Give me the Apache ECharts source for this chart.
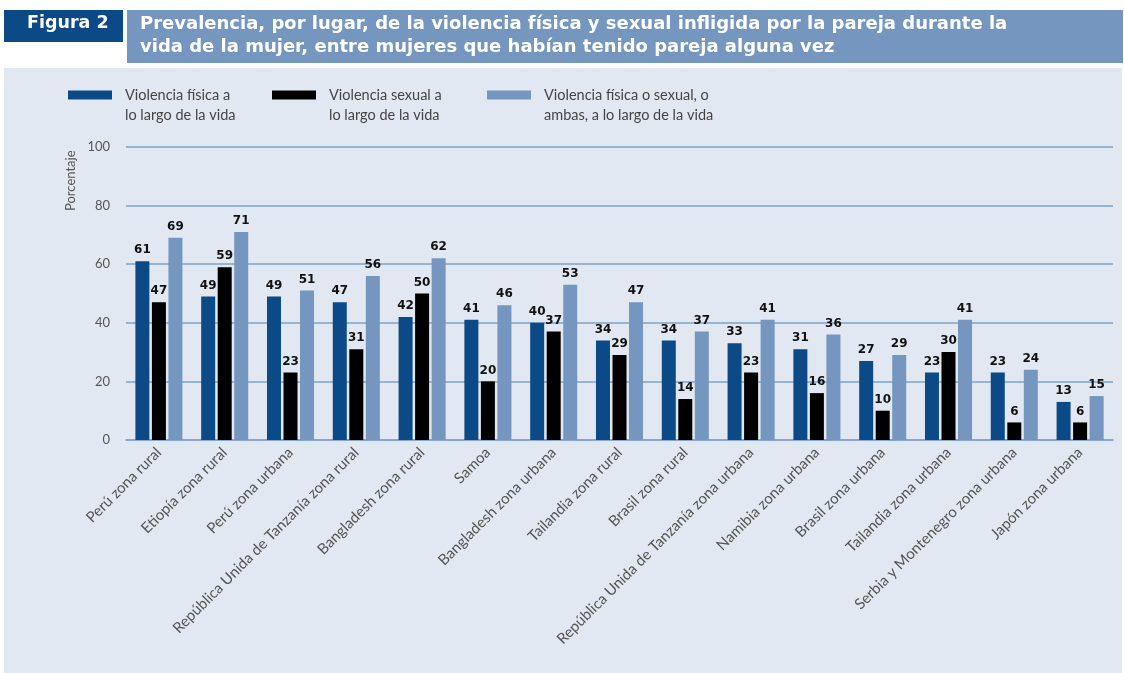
<!DOCTYPE html>
<html>
<head>
<meta charset="utf-8">
<script src="https://cdn.jsdelivr.net/npm/echarts@6/dist/echarts.min.js"></script>
<style>
  html, body { margin: 0; padding: 0; background: #fff; }
  #chart { width: 1124px; height: 673px; }
</style>
</head>
<body>
<div id="chart"></div>
<script>
const categories = [
  'Perú zona rural', 'Etiopía zona rural', 'Perú zona urbana',
  'República Unida de Tanzanía zona rural', 'Bangladesh zona rural', 'Samoa',
  'Bangladesh zona urbana', 'Tailandia zona rural', 'Brasil zona rural',
  'República Unida de Tanzanía zona urbana', 'Namibia zona urbana', 'Brasil zona urbana',
  'Tailandia zona urbana', 'Serbia y Montenegro zona urbana', 'Japón zona urbana'
]
const fisica = [61, 49, 49, 47, 42, 41, 40, 34, 34, 33, 31, 27, 23, 23, 13]
const sexual = [47, 59, 23, 31, 50, 20, 37, 29, 14, 23, 16, 10, 30, 6, 6]
const ambas = [69, 71, 51, 56, 62, 46, 53, 47, 37, 41, 36, 29, 41, 24, 15]
const yTicks = [0, 20, 40, 60, 80, 100]

const names = [
  'Violencia física a\nlo largo de la vida',
  'Violencia sexual a\nlo largo de la vida',
  'Violencia física o sexual, o\nambas, a lo largo de la vida'
]
const colors = ['#0b4a87', '#000000', '#7496bf']

const chart = echarts.init(document.getElementById('chart'))

// tall icon whose filled part is only the top strip, so the swatch
// lines up with the first line of the two-line label
const legendIcon = 'path://M0,0h44v9h-44z M0,28.9h0.05v0.1h-0.05z'

function makeLegend (name, left) {
  return {
    data: [name],
    left: left,
    top: 85,
    padding: 0,
    itemWidth: 44,
    itemHeight: 29,
    icon: legendIcon,
    textStyle: {
      fontFamily: 'Lato',
      fontSize: 14.5,
      color: '#444',
      lineHeight: 20,
      padding: [0, 0, 0, 8]
    }
  }
}

function makeSeries (name, data, color) {
  return {
    name: name,
    type: 'bar',
    data: data,
    barWidth: 14,
    barGap: '18%',
    itemStyle: { color: color },
    label: {
      show: true,
      position: 'top',
      distance: 5,
      fontFamily: 'DejaVu Sans',
      fontWeight: 'bold',
      fontSize: 12,
      color: '#111'
    }
  }
}

chart.setOption({
  animation: false,
  backgroundColor: '#ffffff',
  color: colors,
  graphic: [
    { type: 'rect', z: -10, shape: { x: 4, y: 68, width: 1118, height: 605 }, style: { fill: '#e2e8f1' } },
    { type: 'rect', shape: { x: 4, y: 10, width: 119, height: 32 }, style: { fill: '#0b4a87' } },
    { type: 'rect', shape: { x: 127, y: 10, width: 996, height: 53 }, style: { fill: '#7496bf' } },
    {
      type: 'text', left: 27, top: 14,
      style: { text: 'Figura 2', fill: '#fff', font: 'bold 17.5px "DejaVu Sans"' }
    },
    {
      type: 'text', left: 140, top: 13,
      style: {
        text: 'Prevalencia, por lugar, de la violencia física y sexual infligida por la pareja durante la\nvida de la mujer, entre mujeres que habían tenido pareja alguna vez',
        fill: '#fff', font: 'bold 18px "DejaVu Sans"', lineHeight: 23
      }
    },
    {
      type: 'text', x: 64, y: 211, rotation: Math.PI / 2,
      style: { text: 'Porcentaje', fill: '#555', font: '13px Lato' }
    }
  ],
  legend: [
    makeLegend(names[0], 68),
    makeLegend(names[1], 272),
    makeLegend(names[2], 487)
  ],
  grid: { left: 126, right: 11, top: 147, bottom: 233 },
  xAxis: {
    type: 'category',
    data: categories,
    axisTick: { show: false },
    axisLine: { lineStyle: { color: '#7fa3c9', width: 1.5 } },
    axisLabel: {
      interval: 0,
      rotate: 45,
      margin: 10,
      fontFamily: 'Lato',
      fontSize: 15,
      color: '#555'
    }
  },
  yAxis: {
    type: 'value',
    min: 0,
    max: 100,
    interval: 20,
    axisLine: { show: false },
    axisTick: { show: false },
    axisLabel: {
      margin: 16,
      fontFamily: 'Lato',
      fontSize: 13,
      color: '#555',
      formatter: v => yTicks.includes(v) ? String(v) : ''
    },
    splitLine: { lineStyle: { color: '#7fa3c9', width: 1.5 } }
  },
  series: [
    makeSeries(names[0], fisica, colors[0]),
    makeSeries(names[1], sexual, colors[1]),
    makeSeries(names[2], ambas, colors[2])
  ]
})
</script>
</body>
</html>
